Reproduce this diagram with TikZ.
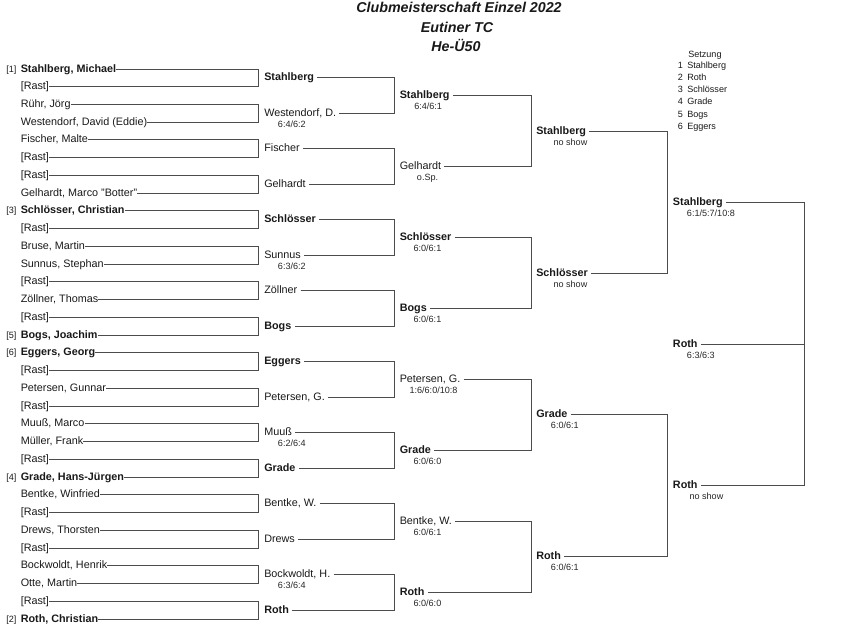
\documentclass[tikz,border=0pt]{standalone}
\usepackage{fontspec}
\setmainfont{Liberation Sans}
\newcommand\nmfont{\fontsize{8.1}{9}\selectfont}
\newcommand\scfont{\fontsize{6.8}{8}\selectfont}
\newcommand\ttlfont{\fontsize{10.7}{12}\selectfont\bfseries\itshape}
\pgfmathdeclarefunction{ry}{1}{\pgfmathparse{floor(69+17.742*#1)+0.5}}
\tikzset{
  lbl/.style={inner sep=0pt, anchor=west, text height=4.2pt, text depth=0pt, font=\nmfont, text=black!90},
  wbold/.style={font=\nmfont\bfseries},
  wreg/.style={},
  adv/.style={lbl, execute at end node={\hspace{2.25pt}}},
  score/.style={inner sep=0pt, anchor=base west, font=\scfont, text=black!85},
  seed/.style={inner sep=0pt, anchor=base west, font=\scfont, text=black!90},
  ttl/.style={inner sep=0pt, anchor=base, font=\ttlfont, text=black!90},
  brk/.style={draw=black!70, line width=0.75pt},
}
\begin{document}
\begin{tikzpicture}[x=0.75pt,y=-0.75pt]
\useasboundingbox (0,0) rectangle (856,634);
% title
\node[ttl] (t1) at (459,12.5) {Clubmeisterschaft Einzel 2022};
\node[ttl] (t2) at (457,32.3) {Eutiner TC};
\node[ttl] (t3) at (456,51.7) {He-Ü50};
% legend
\node[seed] (lg) at (688,58) {Setzung};
\foreach \nr/\nm [count=\r from 0] in {1/Stahlberg,2/Roth,3/Schlösser,4/Grade,5/Bogs,6/Eggers}{
  \node[seed] (ln\r) at (677.5,{68.7+12.1*\r}) {\nr};
  \node[seed] (lm\r) at (687,{68.7+12.1*\r}) {\nm};
}
% round 1
\foreach \nm/\st [count=\i from 0] in {
  {Stahlberg, Michael}/wbold, {[Rast]}/wreg, {Rühr, Jörg}/wreg, {Westendorf, David (Eddie)}/wreg,
  {Fischer, Malte}/wreg, {[Rast]}/wreg, {[Rast]}/wreg, {Gelhardt, Marco "Botter"}/wreg,
  {Schlösser, Christian}/wbold, {[Rast]}/wreg, {Bruse, Martin}/wreg, {Sunnus, Stephan}/wreg,
  {[Rast]}/wreg, {Zöllner, Thomas}/wreg, {[Rast]}/wreg, {Bogs, Joachim}/wbold,
  {Eggers, Georg}/wbold, {[Rast]}/wreg, {Petersen, Gunnar}/wreg, {[Rast]}/wreg,
  {Muuß, Marco}/wreg, {Müller, Frank}/wreg, {[Rast]}/wreg, {Grade, Hans-Jürgen}/wbold,
  {Bentke, Winfried}/wreg, {[Rast]}/wreg, {Drews, Thorsten}/wreg, {[Rast]}/wreg,
  {Bockwoldt, Henrik}/wreg, {Otte, Martin}/wreg, {[Rast]}/wreg, {Roth, Christian}/wbold}{
  \node[lbl,\st] (a\i) at (20.5,{ry(\i)}) {\nm};
}
% seeds
\foreach \i/\s in {0/1,8/3,15/5,16/6,23/4,31/2}{
  \node[seed] (sd\i) at (6,{ry(\i)+2.8}) {[\s]};
}
% round 2
\foreach \nm/\st [count=\k from 0] in {
  Stahlberg/wbold, {Westendorf, D.}/wreg, Fischer/wreg, Gelhardt/wreg,
  Schlösser/wbold, Sunnus/wreg, Zöllner/wreg, Bogs/wbold,
  Eggers/wbold, {Petersen, G.}/wreg, Muuß/wreg, Grade/wbold,
  {Bentke, W.}/wreg, Drews/wreg, {Bockwoldt, H.}/wreg, Roth/wbold}{
  \node[adv,\st] (b\k) at (264,{ry(2*\k+0.5)}) {\nm};
}
% round 3
\foreach \nm/\st [count=\k from 0] in {
  Stahlberg/wbold, Gelhardt/wreg, Schlösser/wbold, Bogs/wbold,
  {Petersen, G.}/wreg, Grade/wbold, {Bentke, W.}/wreg, Roth/wbold}{
  \node[adv,\st] (c\k) at (399.5,{ry(4*\k+1.5)}) {\nm};
}
% round 4
\foreach \nm [count=\k from 0] in {Stahlberg, Schlösser, Grade, Roth}{
  \node[adv,wbold] (d\k) at (536,{ry(8*\k+3.5)}) {\nm};
}
% round 5
\node[adv,wbold] (e0) at (672.7,{ry(7.5)}) {Stahlberg};
\node[adv,wbold] (e1) at (672.7,{ry(23.5)}) {Roth};
% final
\node[adv,wbold] (fin) at (672.7,{ry(15.5)}) {Roth};
% brackets round 1
\foreach \k in {0,...,15}{
  \pgfmathtruncatemacro\p{2*\k}\pgfmathtruncatemacro\q{2*\k+1}
  \coordinate (ja-\k) at (258.5,{ry(2*\k+0.5)});
  \draw[brk] (a\p.east) -| (ja-\k) |- (a\q.east);
}
% brackets round 2
\foreach \k in {0,...,7}{
  \pgfmathtruncatemacro\p{2*\k}\pgfmathtruncatemacro\q{2*\k+1}
  \coordinate (jb-\k) at (394.5,{ry(4*\k+1.5)});
  \draw[brk] (b\p.east) -| (jb-\k) |- (b\q.east);
}
% brackets round 3
\foreach \k in {0,...,3}{
  \pgfmathtruncatemacro\p{2*\k}\pgfmathtruncatemacro\q{2*\k+1}
  \coordinate (jc-\k) at (531.5,{ry(8*\k+3.5)});
  \draw[brk] (c\p.east) -| (jc-\k) |- (c\q.east);
}
% brackets round 4
\foreach \k in {0,1}{
  \pgfmathtruncatemacro\p{2*\k}\pgfmathtruncatemacro\q{2*\k+1}
  \coordinate (jd-\k) at (667.5,{ry(16*\k+7.5)});
  \draw[brk] (d\p.east) -| (jd-\k) |- (d\q.east);
}
% final bracket
\coordinate (je) at (804.5,{ry(15.5)});
\draw[brk] (e0.east) -| (je) |- (e1.east);
\draw[brk] (fin.east) -- (je);
% scores round 2
\node[score] (sb1) at (277.7,{ry(2.5)+14.3}) {6:4/6:2};
\node[score] (sb5) at (277.7,{ry(10.5)+14.3}) {6:3/6:2};
\node[score] (sb10) at (277.7,{ry(20.5)+14.3}) {6:2/6:4};
\node[score] (sb14) at (277.7,{ry(28.5)+14.3}) {6:3/6:4};
% scores round 3
\node[score] (sc0) at (414,{ry(1.5)+14.3}) {6:4/6:1};
\node[score] (sc1) at (416.7,{ry(5.5)+14.3}) {o.Sp.};
\node[score] (sc2) at (413.3,{ry(9.5)+14.3}) {6:0/6:1};
\node[score] (sc3) at (413.3,{ry(13.5)+14.3}) {6:0/6:1};
\node[score] (sc4) at (409.3,{ry(17.5)+14.3}) {1:6/6:0/10:8};
\node[score] (sc5) at (413.3,{ry(21.5)+14.3}) {6:0/6:0};
\node[score] (sc6) at (413.3,{ry(25.5)+14.3}) {6:0/6:1};
\node[score] (sc7) at (413.3,{ry(29.5)+14.3}) {6:0/6:0};
% scores round 4
\node[score] (sd0) at (553.3,{ry(3.5)+14.3}) {no show};
\node[score] (sd1) at (553.3,{ry(11.5)+14.3}) {no show};
\node[score] (sd2) at (550.7,{ry(19.5)+14.3}) {6:0/6:1};
\node[score] (sd3) at (550.7,{ry(27.5)+14.3}) {6:0/6:1};
% scores round 5 and final
\node[score] (se0) at (686.7,{ry(7.5)+14.3}) {6:1/5:7/10:8};
\node[score] (se1) at (689.3,{ry(23.5)+14.3}) {no show};
\node[score] (sf) at (686.7,{ry(15.5)+14.3}) {6:3/6:3};
\end{tikzpicture}
\end{document}
